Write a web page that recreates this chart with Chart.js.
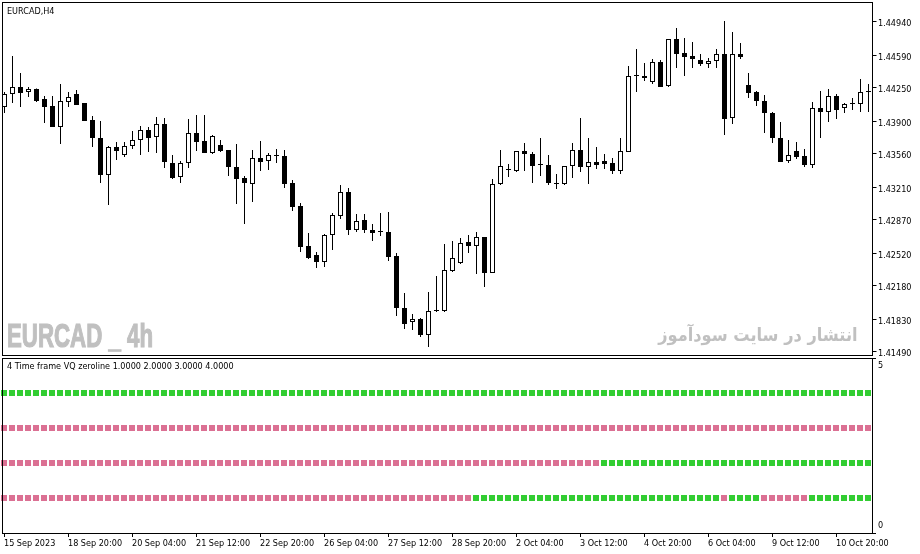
<!DOCTYPE html>
<html><head><meta charset="utf-8">
<script src="https://cdn.jsdelivr.net/npm/chart.js@4.4.0/dist/chart.umd.min.js"></script>
<style>
html,body{margin:0;padding:0;background:#fff;width:920px;height:554px;overflow:hidden;position:relative}
canvas{position:absolute;left:0}
#main{top:0}
#sub{top:357px}
.frame{position:absolute;border:1px solid #000;box-sizing:border-box;pointer-events:none}
.lbl{position:absolute;font-family:'DejaVu Sans Condensed','DejaVu Sans',sans-serif;font-size:9px;line-height:11px;color:#000;white-space:nowrap}
.wm{position:absolute;color:#c0c0c0;white-space:nowrap}
</style></head><body>
<canvas id="main" width="920" height="357"></canvas>
<canvas id="sub" width="920" height="197"></canvas>
<div class="frame" style="left:2px;top:2px;width:871px;height:354px"></div>
<div class="frame" style="left:2px;top:358px;width:871px;height:176px"></div>
<div class="lbl" style="left:7px;top:6px">EURCAD,H4</div>
<div class="lbl" style="left:7px;top:361px">4 Time frame VQ zeroline 1.0000 2.0000 3.0000 4.0000</div>
<div class="wm" style="left:7px;top:318px;font-family:'Liberation Sans',sans-serif;font-weight:700;font-size:34px;line-height:34px;-webkit-text-stroke:1.2px #c0c0c0;transform:scaleX(0.655);transform-origin:0 0">EURCAD _ 4h</div>
<div class="wm" dir="rtl" style="right:62px;top:322px;font-family:'DejaVu Sans',sans-serif;font-weight:bold;font-size:18px;line-height:26px;transform:scaleX(0.9);transform-origin:100% 0">انتشار در سایت سودآموز</div>
<script>
// ---- data ----
const barDays = ['15 Sep','18 Sep','19 Sep','20 Sep','21 Sep','22 Sep','25 Sep','26 Sep','27 Sep','28 Sep','29 Sep','2 Oct','3 Oct','4 Oct','5 Oct','6 Oct','9 Oct','10 Oct','11 Oct'];
const barHours = ['00:00','04:00','08:00','12:00','16:00','20:00'];
const timeLabels = ['15 Sep 2023','18 Sep 20:00','20 Sep 04:00','21 Sep 12:00','22 Sep 20:00','26 Sep 04:00','27 Sep 12:00','28 Sep 20:00','2 Oct 04:00','3 Oct 12:00','4 Oct 20:00','6 Oct 04:00','9 Oct 12:00','10 Oct 20:00'];
const priceTicks = [1.44940,1.44590,1.44250,1.43900,1.43560,1.43210,1.42870,1.42520,1.42180,1.41830,1.41490];
const priceMin = 1.414586, priceMax = 1.451386;

const open = [
1.44051,1.44187,1.44260,1.44208,1.44240,1.44135,1.44062,1.43842,1.44104,1.44187,
1.44093,1.43915,1.43727,1.43341,1.43633,1.43550,1.43644,1.43706,1.43811,1.43738,
1.43874,1.43466,1.43320,1.43466,1.43780,1.43696,1.43570,1.43654,1.43602,1.43424,
1.43309,1.43246,1.43518,1.43487,1.43539,1.43539,1.43257,1.43016,1.42598,1.42504,
1.42431,1.42713,1.42912,1.43163,1.42766,1.42870,1.42766,1.42745,1.42745,1.42494,
1.41950,1.41803,1.41835,1.41668,1.41919,1.41919,1.42337,1.42420,1.42640,1.42598,
1.42692,1.42316,1.43246,1.43393,1.43382,1.43591,1.43560,1.43445,1.43445,1.43246,
1.43246,1.43435,1.43602,1.43424,1.43476,1.43487,1.43466,1.43382,1.43581,1.44375,
1.44375,1.44313,1.44522,1.44271,1.44762,1.44616,1.44585,1.44543,1.44501,1.44532,
1.44605,1.43936,1.44605,1.44281,1.44208,1.44114,1.43989,1.43727,1.43487,1.43591,
1.43539,1.43445,1.44041,1.43999,1.44166,1.44041,1.44083,1.44083,1.44208];
const high = [
1.44208,1.44585,1.44407,1.44260,1.44245,1.44166,1.44166,1.44292,1.44208,1.44229,
1.44093,1.43957,1.43905,1.43644,1.43685,1.43685,1.43800,1.43853,1.43842,1.43947,
1.43936,1.43550,1.43487,1.43926,1.43968,1.43968,1.43759,1.43706,1.43602,1.43665,
1.43330,1.43602,1.43696,1.43570,1.43612,1.43602,1.43288,1.43048,1.42734,1.42535,
1.42724,1.42943,1.43236,1.43205,1.42933,1.42933,1.42828,1.42943,1.42954,1.42525,
1.42107,1.41887,1.41846,1.42117,1.42285,1.42619,1.42650,1.42682,1.42713,1.42745,
1.42692,1.43299,1.43602,1.43455,1.43591,1.43675,1.43581,1.43727,1.43550,1.43351,
1.43435,1.43675,1.43936,1.43727,1.43633,1.43560,1.43518,1.43727,1.44480,1.44658,
1.44511,1.44553,1.44543,1.44762,1.44877,1.44773,1.44731,1.44605,1.44564,1.44658,
1.44950,1.44835,1.44720,1.44407,1.44219,1.44177,1.43999,1.43895,1.43706,1.43685,
1.43612,1.44104,1.44219,1.44240,1.44187,1.44093,1.44145,1.44344,1.44292];
const low = [
1.43989,1.44093,1.44051,1.44156,1.44104,1.43884,1.43842,1.43665,1.44051,1.44072,
1.43905,1.43633,1.43257,1.43027,1.43497,1.43529,1.43612,1.43550,1.43581,1.43570,
1.43414,1.43299,1.43257,1.43414,1.43591,1.43570,1.43560,1.43581,1.43330,1.43037,
1.42828,1.43058,1.43382,1.43393,1.43466,1.43205,1.42964,1.42535,1.42462,1.42368,
1.42379,1.42556,1.42880,1.42713,1.42745,1.42734,1.42650,1.42703,1.42441,1.41866,
1.41730,1.41720,1.41647,1.41542,1.41908,1.41908,1.42326,1.42410,1.42525,1.42305,
1.42170,1.42316,1.43236,1.43320,1.43372,1.43382,1.43257,1.43330,1.43236,1.43194,
1.43236,1.43309,1.43372,1.43246,1.43403,1.43403,1.43351,1.43351,1.43581,1.44208,
1.44323,1.44292,1.44260,1.44260,1.44459,1.44375,1.44459,1.44480,1.44459,1.44459,
1.43759,1.43874,1.44553,1.44145,1.44062,1.43780,1.43675,1.43476,1.43466,1.43508,
1.43424,1.43414,1.43727,1.43895,1.43926,1.43989,1.44020,1.43999,1.43999];
const close = [
1.44187,1.44260,1.44198,1.44240,1.44114,1.44051,1.43842,1.44114,1.44156,1.44072,
1.43905,1.43727,1.43341,1.43633,1.43591,1.43644,1.43706,1.43811,1.43727,1.43874,
1.43476,1.43309,1.43466,1.43780,1.43685,1.43570,1.43748,1.43591,1.43424,1.43299,
1.43257,1.43518,1.43476,1.43550,1.43539,1.43246,1.43006,1.42588,1.42473,1.42431,
1.42713,1.42922,1.43163,1.42766,1.42860,1.42766,1.42734,1.42745,1.42483,1.41950,
1.41783,1.41835,1.41668,1.41919,1.41919,1.42347,1.42473,1.42630,1.42598,1.42692,
1.42316,1.43246,1.43435,1.43393,1.43591,1.43560,1.43435,1.43445,1.43257,1.43246,
1.43435,1.43602,1.43424,1.43476,1.43445,1.43455,1.43382,1.43591,1.44375,1.44375,
1.44355,1.44522,1.44260,1.44762,1.44605,1.44574,1.44553,1.44501,1.44532,1.44605,
1.43926,1.44605,1.44574,1.44198,1.44114,1.43989,1.43727,1.43476,1.43550,1.43529,
1.43445,1.44041,1.43999,1.44166,1.44020,1.44083,1.44083,1.44208,1.44208];

// indicator: 4 rows (levels 4,3,2,1); G = up (green), P = down (pink)
const rowLevels = [4, 3, 2, 1];
const row4 = 'GGGGGGGGGG GGGGGGGGGG GGGGGGGGGG GGGGGGGGGG GGGGGGGGGG GGGGGGGGGG GGGGGGGGGG GGGGGGGGGG GGGGGGGGGG GGGGGGGGGG GGGGGGGGG';
const row3 = 'PPPPPPPPPP PPPPPPPPPP PPPPPPPPPP PPPPPPPPPP PPPPPPPPPP PPPPPPPPPP PPPPPPPPPP PPPPPPPPPP PPPPPPPPPP PPPPPPPPPP PPPPPPPPP';
const row2 = 'PPPPPPPPPP PPPPPPPPPP PPPPPPPPPP PPPPPPPPPP PPPPPPPPPP PPPPPPPPPP PPPPPPPPPP PPPPPGGGGG GGGGGGGGGG GGGGGGGGGG GGGGGGGGG';
const row1 = 'PPPPPPPPPP PPPPPPPPPP PPPPPPPPPP PPPPPPPPPP PPPPPPPPPP PPPPPPPPPG GGGGGGGGGG GGGGGGGGGG GGGGGGGGGG PGGGGPPPPP PGGGGGGGG';
const rowStates = [row4, row3, row2, row1].map(s => s.replace(/ /g, '').split(''));

// ---- build ----
const categories = [];
barDays.forEach(d => barHours.forEach(h => categories.push(d + ' ' + h)));
categories.splice(0, 3);
categories.length = open.length;

const UP = '#32CD32', DOWN = '#DB7093';
const tickFont = {family: "'DejaVu Sans Condensed','DejaVu Sans',sans-serif", size: 9};
const noPad = s => { s.paddingTop = 0; s.paddingBottom = 0; s.paddingLeft = 0; s.paddingRight = 0; };

new Chart(document.getElementById('main'), {
  type: 'bar',
  data: {
    labels: categories,
    datasets: [
      {
        label: 'body',
        data: categories.map((_, i) => [Math.min(open[i], close[i]), Math.max(open[i], close[i])]),
        backgroundColor: categories.map((_, i) => close[i] > open[i] ? '#ffffff' : '#000000'),
        borderColor: '#000000', borderWidth: 1, borderSkipped: false,
        barThickness: 5, grouped: false, minBarLength: 1, inflateAmount: 0
      },
      {
        label: 'wick',
        data: categories.map((_, i) => [low[i], high[i]]),
        backgroundColor: '#000000', borderWidth: 0,
        barThickness: 1, grouped: false, inflateAmount: 0
      }
    ]
  },
  options: {
    responsive: false, animation: false, devicePixelRatio: 1,
    layout: {autoPadding: false, padding: {left: 0.5, top: 3, right: 0, bottom: 2}},
    plugins: {legend: {display: false}, tooltip: {enabled: false}},
    scales: {
      x: {display: false, offset: true, grid: {offset: false}, afterFit: noPad},
      y: {
        position: 'right', min: priceMin, max: priceMax,
        afterFit: s => { s.width = 47.5; noPad(s); },
        afterBuildTicks: s => { s.ticks = priceTicks.map(v => ({value: v})); },
        ticks: {callback: v => Number(v).toFixed(5), autoSkip: false, padding: 1.5, labelOffset: 2, color: '#000', font: tickFont},
        grid: {drawOnChartArea: false, drawTicks: true, tickLength: 4, color: '#000'},
        border: {display: false}
      }
    }
  }
});

new Chart(document.getElementById('sub'), {
  type: 'line',
  data: {
    labels: categories,
    datasets: rowLevels.map((lvl, k) => ({
      label: 'row' + lvl,
      data: categories.map(() => lvl),
      showLine: false, pointStyle: 'rect',
      pointRadius: 4.243, pointHoverRadius: 4.243, pointBorderWidth: 0,
      pointBackgroundColor: rowStates[k].map(s => s === 'G' ? UP : DOWN)
    }))
  },
  options: {
    responsive: false, animation: false, devicePixelRatio: 1,
    layout: {autoPadding: false, padding: {left: 0, top: 1, right: 0, bottom: 0}},
    plugins: {legend: {display: false}, tooltip: {enabled: false}},
    scales: {
      x: {
        offset: true,
        afterBuildTicks: s => { s.ticks = s.ticks.filter(t => t.value % 8 === 0); },
        afterFit: s => { s.height = 21; noPad(s); },
        ticks: {autoSkip: false, maxRotation: 0, minRotation: 0, align: 'start', padding: 1, color: '#000', font: tickFont,
                callback: v => timeLabels[v / 8]},
        grid: {drawOnChartArea: false, tickLength: 4, color: '#000', offset: false},
        border: {display: false}
      },
      y: {
        position: 'right', min: 0, max: 5,
        afterFit: s => { s.width = 48; noPad(s); },
        afterBuildTicks: s => { s.ticks = [{value: 0}, {value: 5}]; },
        ticks: {callback: v => v === 5 ? ['', '5'] : ['0', ''], padding: 2, color: '#000',
                font: {family: tickFont.family, size: 9, lineHeight: 1.6}},
        grid: {drawOnChartArea: false, tickLength: 4, color: '#000'},
        border: {display: false}
      }
    }
  }
});
</script>
</body></html>
